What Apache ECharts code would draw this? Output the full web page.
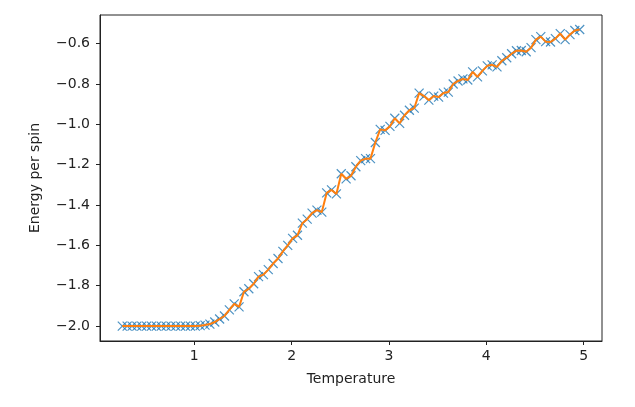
<!DOCTYPE html>
<html>
<head>
<meta charset="utf-8">
<script src="https://cdn.jsdelivr.net/npm/echarts@6/dist/echarts.min.js"></script>
<style>
  html, body { margin: 0; padding: 0; background: #fff; }
  #main { width: 635px; height: 407px; }
</style>
</head>
<body>
<div id="main"></div>
<script>
// temperatures sampled in the simulation
var temperature = [
  0.26, 0.31, 0.36, 0.41, 0.46, 0.51, 0.56, 0.61, 0.66, 0.71,
  0.76, 0.81, 0.86, 0.91, 0.96, 1.01, 1.06, 1.11, 1.16, 1.21,
  1.26, 1.31, 1.36, 1.41, 1.46, 1.51, 1.56, 1.61, 1.66, 1.71,
  1.76, 1.81, 1.86, 1.91, 1.96, 2.01, 2.06, 2.11, 2.16, 2.21,
  2.26, 2.31, 2.36, 2.41, 2.46, 2.51, 2.56, 2.61, 2.66, 2.71,
  2.76, 2.81, 2.86, 2.91, 2.96, 3.01, 3.06, 3.11, 3.16, 3.21,
  3.26, 3.31, 3.36, 3.41, 3.46, 3.51, 3.56, 3.61, 3.66, 3.71,
  3.76, 3.81, 3.86, 3.91, 3.96, 4.01, 4.06, 4.11, 4.16, 4.21,
  4.26, 4.31, 4.36, 4.41, 4.46, 4.51, 4.56, 4.61, 4.66, 4.71,
  4.76, 4.81, 4.86, 4.91, 4.96
];
// energy per spin
var energy = [
  -2.0, -2.0, -2.0, -2.0, -2.0, -2.0, -2.0, -2.0, -2.0, -2.0,
  -2.0, -2.0, -2.0, -2.0, -2.0, -2.0, -1.998, -1.995, -1.99, -1.98,
  -1.965, -1.95, -1.92, -1.89, -1.905, -1.83, -1.815, -1.79, -1.755, -1.745,
  -1.72, -1.69, -1.665, -1.63, -1.6, -1.565, -1.55, -1.49, -1.47, -1.44,
  -1.425, -1.435, -1.34, -1.325, -1.345, -1.245, -1.27, -1.255, -1.21, -1.18,
  -1.17, -1.17, -1.09, -1.025, -1.03, -1.01, -0.97, -0.995, -0.955, -0.93,
  -0.92, -0.845, -0.86, -0.88, -0.86, -0.865, -0.845, -0.84, -0.80, -0.785,
  -0.775, -0.78, -0.74, -0.765, -0.735, -0.71, -0.705, -0.715, -0.685, -0.67,
  -0.65, -0.635, -0.634, -0.64, -0.62, -0.58, -0.565, -0.59, -0.592, -0.575,
  -0.55, -0.58, -0.555, -0.535, -0.53
];
var xTicks = [1, 2, 3, 4, 5];
var yTicks = [-2.0, -1.8, -1.6, -1.4, -1.2, -1.0, -0.8, -0.6];

var points = temperature.map(function (t, i) { return [t, energy[i]]; });

var myChart = echarts.init(document.getElementById('main'));
var font = 'DejaVu Sans';
var option = {
  animation: false,
  grid: {
    left: 100, right: 33, top: 15, bottom: 66,
    show: true, borderColor: '#222', borderWidth: 1, backgroundColor: '#fff'
  },
  xAxis: {
    type: 'value',
    min: 0.031, max: 5.189,
    name: 'Temperature',
    nameLocation: 'middle',
    nameGap: 31,
    nameTextStyle: { fontFamily: font, fontSize: 14, color: '#222' },
    splitLine: { show: false },
    axisLine: { lineStyle: { color: '#222', width: 1 } },
    axisTick: { customValues: xTicks, length: 4, lineStyle: { color: '#222' } },
    axisLabel: {
      customValues: xTicks, margin: 8,
      fontFamily: font, fontSize: 14, color: '#222',
      formatter: function (v) { return String(v); }
    }
  },
  yAxis: {
    type: 'value',
    min: -2.074, max: -0.458,
    name: 'Energy per spin',
    nameLocation: 'middle',
    nameGap: 58,
    nameTextStyle: { fontFamily: font, fontSize: 14, color: '#222' },
    splitLine: { show: false },
    axisLine: { show: true, lineStyle: { color: '#222', width: 1 } },
    axisTick: { show: true, customValues: yTicks, length: 4, lineStyle: { color: '#222' } },
    axisLabel: {
      customValues: yTicks, margin: 10,
      fontFamily: font, fontSize: 14, color: '#222',
      formatter: function (v) { return v.toFixed(1).replace('-', '\u2212'); }
    }
  },
  series: [
    {
      type: 'scatter',
      data: points,
      symbol: 'path://M0,0L10,10M10,0L0,10',
      symbolSize: 9,
      itemStyle: { color: 'rgba(0,0,0,0)', borderColor: '#1f77b4', borderWidth: 1.2 },
      z: 2
    },
    {
      type: 'line',
      data: points,
      showSymbol: false,
      lineStyle: { color: '#ff7f0e', width: 2 },
      z: 3
    }
  ]
};
myChart.setOption(option);
</script>
</body>
</html>
